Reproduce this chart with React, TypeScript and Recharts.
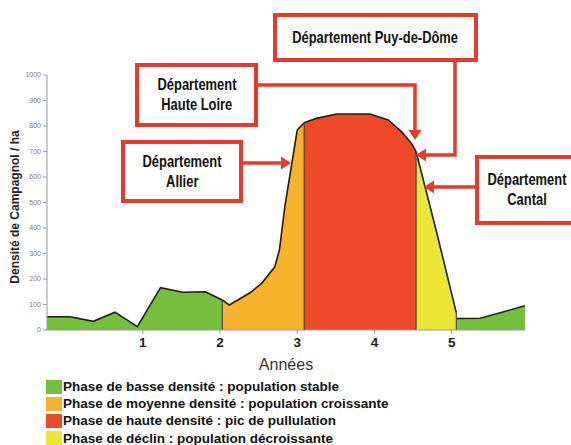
import React from 'react';
import { ComposedChart, Area, XAxis, YAxis, ReferenceLine } from 'recharts';

// years on the x axis, density (campagnols / ha) on the y axis
const yearTicks = [1, 2, 3, 4, 5];
const densityTicks = [0, 100, 200, 300, 400, 500, 600, 700, 800, 900, 1000];

const lowYearsA = [-0.24, 0.06, 0.36, 0.64, 0.93, 1.23, 1.52, 1.81, 2.03];
const lowValuesA = [52, 52, 34, 70, 13, 166, 148, 150, 118];
const riseYears = [2.03, 2.12, 2.39, 2.54, 2.71, 2.77, 2.84, 3.0, 3.09];
const riseValues = [118, 98, 146, 183, 248, 314, 484, 784, 813];
const peakYears = [3.09, 3.25, 3.51, 3.94, 4.18, 4.35, 4.48, 4.54];
const peakValues = [813, 830, 847, 847, 824, 778, 732, 699];
const declineYears = [4.54, 4.8, 5.06];
const declineValues = [699, 390, 68];
const lowYearsB = [5.06, 5.37, 5.95];
const lowValuesB = [45, 46, 95];

const phaseLabels = [
  'Phase de basse densité : population stable',
  'Phase de moyenne densité : population croissante',
  'Phase de haute densité : pic de pullulation',
  'Phase de déclin : population décroissante',
];
const phaseColors = ['#76bf3e', '#f5b22a', '#ee4a29', '#ebe734'];

const toPoints = (xs: number[], vs: number[]) => xs.map((x, i) => ({ x, v: vs[i] }));

const series = [
  { key: 'lowA', data: toPoints(lowYearsA, lowValuesA), color: phaseColors[0] },
  { key: 'rise', data: toPoints(riseYears, riseValues), color: phaseColors[1] },
  { key: 'peak', data: toPoints(peakYears, peakValues), color: phaseColors[2] },
  { key: 'decline', data: toPoints(declineYears, declineValues), color: phaseColors[3] },
  { key: 'lowB', data: toPoints(lowYearsB, lowValuesB), color: phaseColors[0] },
];

// vertical separators between phases
const separators = [
  { x: riseYears[0], v: riseValues[0] },
  { x: peakYears[0], v: peakValues[0] },
  { x: declineYears[0], v: declineValues[0] },
  { x: declineYears[declineYears.length - 1], v: declineValues[declineValues.length - 1] },
];

const RED = '#e8392b';
const FONT = "'Liberation Sans', Arial, sans-serif";

const boxes = [
  { text: ['Département Puy-de-Dôme'], left: 273, top: 13, width: 205, height: 49 },
  { text: ['Département', 'Haute Loire'], left: 135, top: 63, width: 123, height: 64 },
  { text: ['Département', 'Allier'], left: 121, top: 140, width: 122, height: 63 },
  { text: ['Département', 'Cantal'], left: 475, top: 155, width: 104, height: 70 },
];

function Arrows() {
  const head = (x: number, y: number, dir: 'left' | 'right' | 'down') => {
    const L = 10, W = 6.5;
    let pts = '';
    if (dir === 'left') pts = `${x},${y} ${x + L},${y - W} ${x + L},${y + W}`;
    if (dir === 'right') pts = `${x},${y} ${x - L},${y - W} ${x - L},${y + W}`;
    if (dir === 'down') pts = `${x},${y} ${x - W},${y - L} ${x + W},${y - L}`;
    return <polygon points={pts} fill={RED} />;
  };
  return (
    <svg width={571} height={445} style={{ position: 'absolute', left: 0, top: 0, pointerEvents: 'none' }}>
      <polyline points="455,60 455,155 424,155" fill="none" stroke={RED} strokeWidth={3.5} />
      {head(416, 155, 'left')}
      <polyline points="256,85 415,85 415,132" fill="none" stroke={RED} strokeWidth={3.5} />
      {head(415, 140, 'down')}
      <line x1={241} y1={163} x2={283} y2={163} stroke={RED} strokeWidth={3.5} />
      {head(291, 163, 'right')}
      <line x1={477} y1={187} x2={432} y2={187} stroke={RED} strokeWidth={3.5} />
      {head(424, 187, 'left')}
      <text
        transform="translate(19,207) rotate(-90)"
        textAnchor="middle"
        fontFamily={FONT}
        fontWeight="bold"
        fontSize={12}
        fill="#222"
      >
        Densité de Campagnol / ha
      </text>
    </svg>
  );
}

export default function App() {
  return (
    <div style={{ position: 'absolute', left: 0, top: 0, width: 571, height: 445, background: '#fff', overflow: 'hidden' }}>
      <ComposedChart width={571} height={445} margin={{ top: 75, right: 46, bottom: 75, left: 7 }}>
        <XAxis
          type="number"
          dataKey="x"
          domain={[-0.24, 5.95]}
          ticks={yearTicks}
          allowDataOverflow
          height={40}
          tickSize={4}
          tickMargin={3}
          stroke="#999"
          tick={{ fill: '#222', fontSize: 13.5, fontWeight: 'bold', fontFamily: FONT }}
          label={{ value: 'Années', position: 'insideBottom', offset: 0, fill: '#333', fontSize: 16, fontFamily: FONT }}
        />
        <YAxis
          type="number"
          domain={[0, 1000]}
          ticks={densityTicks}
          width={40}
          tickSize={4}
          tickMargin={2}
          stroke="#999"
          tick={{ fill: '#777', fontSize: 7, fontFamily: FONT }}
        />
        {series.map((s) => (
          <Area
            key={s.key}
            data={s.data}
            dataKey="v"
            type="linear"
            stroke="#1d1d1d"
            strokeWidth={1.6}
            fill={s.color}
            fillOpacity={1}
            isAnimationActive={false}
            dot={false}
            activeDot={false}
          />
        ))}
        {separators.map((b, i) => (
          <ReferenceLine
            key={i}
            segment={[{ x: b.x, y: 0 }, { x: b.x, y: b.v }]}
            stroke="#333"
            strokeWidth={1}
          />
        ))}
      </ComposedChart>
      {boxes.map((b, i) => (
        <div
          key={i}
          style={{
            position: 'absolute',
            left: b.left,
            top: b.top,
            width: b.width,
            height: b.height,
            boxSizing: 'border-box',
            border: `4px solid ${RED}`,
            background: '#fff',
            display: 'flex',
            flexDirection: 'column',
            justifyContent: 'center',
            alignItems: 'center',
            fontFamily: FONT,
            fontWeight: 'bold',
            fontSize: 17,
            lineHeight: '20px',
            color: '#111',
          }}
        >
          {b.text.map((t, j) => (
            <div key={j} style={{ whiteSpace: 'nowrap', transform: 'scaleX(0.76)', transformOrigin: 'center' }}>{t}</div>
          ))}
        </div>
      ))}
      <Arrows />
      <div style={{ position: 'absolute', left: 46, top: 378, fontFamily: FONT }}>
        {phaseLabels.map((label, i) => (
          <div key={i} style={{ display: 'flex', alignItems: 'center', height: 17.2 }}>
            <span style={{ display: 'inline-block', width: 16, height: 14, background: phaseColors[i], marginRight: 1 }} />
            <span style={{ fontSize: 13.5, fontWeight: 'bold', color: '#111', whiteSpace: 'nowrap' }}>{label}</span>
          </div>
        ))}
      </div>
    </div>
  );
}
